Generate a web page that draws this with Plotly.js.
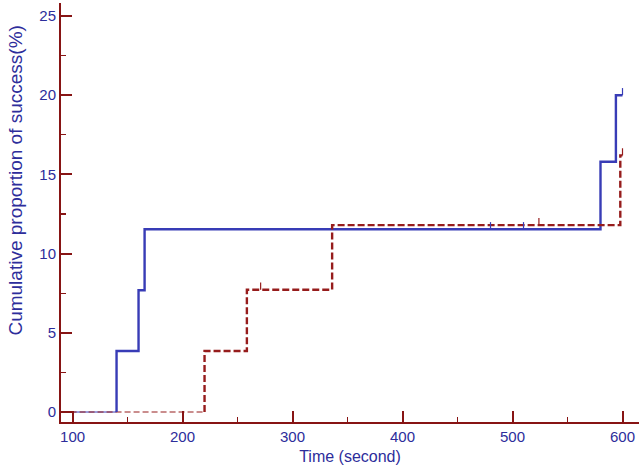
<!DOCTYPE html>
<html>
<head>
<meta charset="utf-8">
<script src="https://cdn.plot.ly/plotly-3.0.1.min.js"></script>
<style>html,body{margin:0;padding:0;background:#fff;}#chart{width:639px;height:474px;}</style>
</head>
<body>
<div id="chart"></div>
<script>
// Series A (blue, solid): event times (s) and cumulative proportion (%)
const blueTimes  = [0, 140, 160, 165.5, 580, 594, 600];
const blueValues = [0, 3.85, 7.69, 11.54, 15.8, 20.0, 20.0];
// Censored observations for series A
const blueCensorTimes  = [480, 510, 600];
const blueCensorValues = [11.54, 11.54, 20.0];

// Series B (dark red, dashed)
const redTimes  = [0, 220, 258.5, 336, 598, 600];
const redValues = [0, 3.85, 7.72, 11.8, 16.2, 16.2];
const redCensorTimes  = [271, 524, 600];
const redCensorValues = [7.72, 11.8, 16.2];

const xTickVals = [100, 200, 300, 400, 500, 600];
const yTickVals = [0, 5, 10, 15, 20, 25];
const xTitle = 'Time (second)';
const yTitle = 'Cumulative proportion of success(%)';

const BLUE = 'rgb(56,60,182)';
const RED = 'rgb(150,28,28)';
const AXIS = 'rgb(135,20,20)';
const LABEL = 'rgb(45,45,155)';

function stepPath(t, v) {
  const xs = [], ys = [];
  for (let i = 1; i < t.length; i++) {
    xs.push(t[i], t[i]);
    ys.push(v[i - 1], v[i]);
  }
  return {x: xs, y: ys};
}

const bStep = stepPath(blueTimes, blueValues);
const rStep = stepPath(redTimes, redValues);

const traces = [
  {x: [blueTimes[0], blueTimes[1]], y: [blueValues[0], blueValues[0]], mode: 'lines',
   line: {color: BLUE, width: 1}, hoverinfo: 'skip'},
  {x: [redTimes[0], redTimes[1]], y: [redValues[0], redValues[0]], mode: 'lines',
   line: {color: RED, width: 1.2, dash: '6px,3px'}, hoverinfo: 'skip'},
  {x: bStep.x, y: bStep.y, mode: 'lines', line: {color: BLUE, width: 2.4}},
  {x: rStep.x, y: rStep.y, mode: 'lines', line: {color: RED, width: 2.4, dash: '7px,3px'}},
  {x: blueCensorTimes, y: blueCensorValues, mode: 'markers',
   marker: {size: 1, color: 'rgba(0,0,0,0)'},
   error_y: {type: 'data', symmetric: false, array: blueCensorTimes.map(() => 0.45),
             arrayminus: blueCensorTimes.map(() => 0), width: 0, thickness: 1.2, color: BLUE}},
  {x: redCensorTimes, y: redCensorValues, mode: 'markers',
   marker: {size: 1, color: 'rgba(0,0,0,0)'},
   error_y: {type: 'data', symmetric: false, array: redCensorTimes.map(() => 0.45),
             arrayminus: redCensorTimes.map(() => 0), width: 0, thickness: 1.2, color: RED}}
];

const layout = {
  width: 639, height: 474,
  margin: {l: 61, r: 0, t: 3, b: 52},
  paper_bgcolor: '#fff', plot_bgcolor: '#fff',
  showlegend: false,
  font: {family: '"Liberation Sans", Arial, sans-serif', size: 15, color: LABEL},
  xaxis: {
    range: [89.5, 615], tickvals: xTickVals, ticktext: xTickVals.map(String),
    ticks: 'inside', ticklen: 11, tickwidth: 2, tickcolor: AXIS,
    minor: {ticks: 'inside', ticklen: 5, tickwidth: 1.2, tickcolor: AXIS, tickvals: [150, 250, 350, 450, 550]},
    showline: true, linecolor: AXIS, linewidth: 2, showgrid: false, zeroline: false,
    tickfont: {size: 15, color: LABEL},
    title: {text: xTitle, font: {size: 16, color: LABEL}, standoff: 7}
  },
  yaxis: {
    range: [-0.63, 25.82], tickvals: yTickVals, ticktext: yTickVals.map(String),
    ticks: 'inside', ticklen: 11, tickwidth: 2, tickcolor: AXIS,
    minor: {ticks: 'inside', ticklen: 5, tickwidth: 1.2, tickcolor: AXIS, tickvals: [2.5, 7.5, 12.5, 17.5, 22.5]},
    showline: true, linecolor: AXIS, linewidth: 2, showgrid: false, zeroline: false,
    tickfont: {size: 15, color: LABEL}
  },
  annotations: [{
    text: yTitle, textangle: -90, showarrow: false,
    xref: 'paper', yref: 'paper', x: -61 / 578, xanchor: 'left', xshift: 3,
    y: 0.575, yanchor: 'middle',
    font: {size: 19, color: LABEL}
  }]
};

Plotly.newPlot('chart', traces, layout, {displayModeBar: false, staticPlot: true});
</script>
</body>
</html>
